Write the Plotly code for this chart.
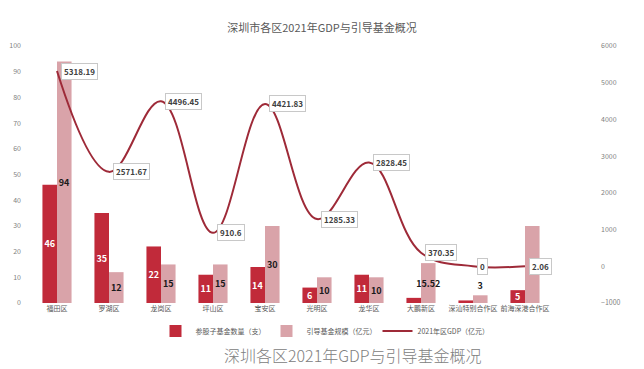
import plotly.graph_objects as go

categories = ["福田区", "罗湖区", "龙岗区", "坪山区", "宝安区", "光明区", "龙华区", "大鹏新区", "深汕特别合作区", "前海深港合作区"]
fund_count = [46, 35, 22, 11, 14, 6, 11, 2, 1, 5]
fund_scale = [94, 12, 15, 15, 30, 10, 10, 15.52, 3, 30]
gdp = [5318.19, 2571.67, 4496.45, 910.6, 4421.83, 1285.33, 2828.45, 370.35, 0, 2.06]

FONT = "Noto Sans CJK SC, Noto Sans, sans-serif"
DARK = "#C12A3A"
PINK = "#D9A3A9"
LINE = "#9E2A38"

W, H = 644, 369
OFF = 8  # page body margin offset
L, R, T, B = 31 - OFF, 14, 46 - OFF, H - (303 - OFF)
pw = W - L - R
ph = H - T - B

fig = go.Figure()
fig.add_trace(go.Bar(
    x=categories, y=fund_count, name="参股子基金数量（支）",
    marker=dict(color=DARK, line=dict(width=0)),
    text=[f"<b>{v:g}</b>" if v >= 5 else "" for v in fund_count],
    textposition="inside", insidetextanchor="middle", textangle=0, constraintext="none",
    textfont=dict(color="white", size=9, family=FONT),
    cliponaxis=False,
))
fig.add_trace(go.Bar(
    x=categories, y=fund_scale, name="引导基金规模（亿元）",
    marker=dict(color=PINK, line=dict(width=0)),
    # the label of the last bar is hidden behind the GDP label in the reference
    text=[f"<b>{v:g}</b>" if i < len(fund_scale) - 1 else "" for i, v in enumerate(fund_scale)],
    textposition=["inside" if v >= 5 else "outside" for v in fund_scale],
    insidetextanchor="middle", textangle=0, constraintext="none",
    textfont=dict(color="#1a1a1a", size=9, family=FONT),
    cliponaxis=False,
))
fig.add_trace(go.Scatter(
    x=categories, y=gdp, name="2021年区GDP（亿元）", yaxis="y2",
    mode="lines", line=dict(color=LINE, width=2, shape="spline", smoothing=1.1),
))

for c, v in zip(categories, gdp):
    fig.add_annotation(
        x=c, y=v, xref="x", yref="y2", text=f"<b>{v:g}</b>",
        showarrow=False, xanchor="left", yanchor="middle", xshift=4,
        bgcolor="white", bordercolor="#C8C8C8", borderwidth=1, borderpad=2,
        font=dict(size=8, color="#404040", family=FONT),
    )

fig.add_annotation(
    x=(353 - OFF - L) / pw, y=(H - B - (355 - OFF)) / ph, xref="paper", yref="paper",
    text="深圳各区2021年GDP与引导基金概况", showarrow=False,
    font=dict(size=16, color="#808080", family=FONT, weight=300),
    yanchor="middle", xanchor="center",
)

fig.update_layout(
    width=W, height=H,
    margin=dict(l=L, r=R, t=T, b=B, autoexpand=False),
    paper_bgcolor="white", plot_bgcolor="white",
    font=dict(family=FONT, color="#595959"),
    title=dict(text="深圳市各区2021年GDP与引导基金概况", x=(322 - OFF) / W, xanchor="center",
               y=1 - (28 - OFF) / H, yanchor="middle", yref="container",
               font=dict(size=11, color="#595959", family=FONT)),
    barmode="group", bargap=0.44, bargroupgap=0,
    xaxis=dict(domain=[0, (552 - OFF - L) / pw], showgrid=False, showline=False, zeroline=False,
               tickfont=dict(size=7, color="#595959"), ticks="", tickangle=0, automargin=False),
    yaxis=dict(range=[0, 100], dtick=10, showgrid=False, zeroline=False, showline=False,
               tickfont=dict(size=7, color="#7f7f7f"), ticklabelstandoff=9, automargin=False),
    yaxis2=dict(range=[-1000, 6000], dtick=1000, overlaying="y", side="right",
                anchor="free", position=(600 - OFF - L) / pw, automargin=False,
                showgrid=False, zeroline=False, showline=False,
                tickfont=dict(size=7, color="#7f7f7f")),
    legend=dict(orientation="h", x=(322 - OFF - L) / pw, xanchor="center",
                y=(H - (331 - OFF)) / H, yref="container",
                yanchor="middle", font=dict(size=7, color="#595959"),
                itemwidth=30, tracegroupgap=0, entrywidth=66, entrywidthmode="pixels"),
    showlegend=True,
)

fig.write_html("out.html")
